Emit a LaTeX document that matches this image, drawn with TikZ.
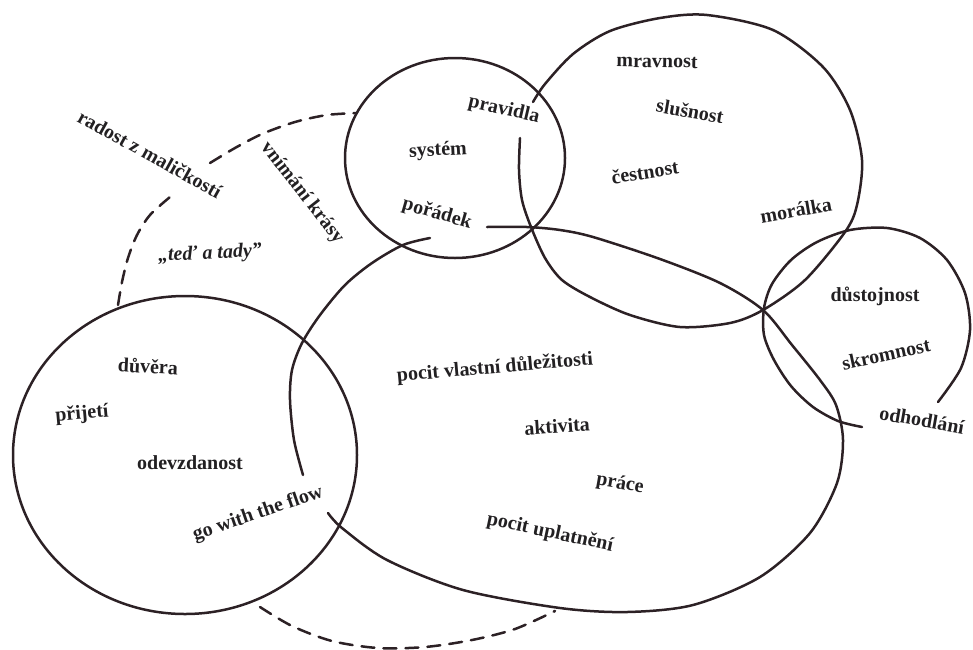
\documentclass[tikz,border=0pt]{standalone}
\usepackage{fontspec}
\setmainfont{Liberation Serif}
\definecolor{ink}{RGB}{44,33,37}
\definecolor{type}{RGB}{34,32,34}

\begin{document}
\begin{tikzpicture}[
    x=1pt, y=-1pt,
    font=\bfseries\fontsize{20}{23}\selectfont,
    ring/.style={draw=ink, line width=2.5pt, line cap=round, line join=round},
    loose/.style={ring, dash pattern=on 13pt off 9pt},
    word/.style={text=type, inner sep=1pt}
]
    \useasboundingbox (0,0) rectangle (973,649);

    % --- DASHED ARCS ---
    \draw[loose] plot[smooth] coordinates {(118,305) (122,282) (128,258) (137,235) (150,215) (170,197)};
    \draw[loose] plot[smooth] coordinates {(210,163) (235,148) (262,134) (295,122) (327,115) (357,113)};
    \draw[loose] plot[smooth] coordinates {(260,607) (292,626) (332,641) (378,648) (425,647) (472,640) (515,629) (555,611)};

    % --- CIRCLES ---
    % system / order
    \draw[ring] (455,158) ellipse [x radius=110pt, y radius=100pt];
    % trust / acceptance
    \draw[ring] (185,455) ellipse [x radius=172pt, y radius=159pt];

    % morals (gap under "pravidla")
    \draw[ring] plot[smooth] coordinates {(533,102) (545,84) (573,54) (610,31) (660,18) (707,15)
        (773,30) (823,67) (850,110) (862,160) (857,205) (845,232) (805,280) (763,310) (730,323)
        (680,327) (630,315) (590,297) (562,280) (545,258) (531,227) (522,200) (519,170) (520,138)};

    % dignity (open at the bottom)
    \draw[ring] plot[smooth] coordinates {(862,427) (838,421) (813,407) (791,386) (774,360) (764,335)
        (764,308) (772,284) (791,260) (817,242) (850,230) (887,228) (920,238) (947,260) (965,293)
        (970,330) (961,368) (938,402)};

    % importance blob (gaps under "pořádek" and "go with the flow")
    \draw[ring] plot[smooth] coordinates {(328,513) (342,528) (387,560) (463,590) (560,608) (627,612)
        (693,605) (760,577) (810,533) (837,483) (843,440) (836,405) (820,380) (792,345) (763,310)
        (720,283) (660,259) (593,237) (560,230) (527,227) (487,227)};
    \draw[ring] plot[smooth] coordinates {(430,238) (403,245) (372,263) (345,285) (320,315) (302,343)
        (292,370) (290,400) (294,440) (303,475)};

    % --- LABELS ---
    \node[word, rotate=-29] (radost) at (150,154) {radost z maličkostí};
    \node[word, rotate=-52] (krasa) at (302,193) {vnímání krásy};
    \node[word, rotate=3] (tady) at (210,254) {\itshape „teď a tady”};

    \node[word, rotate=3] (system) at (438,151) {systém};
    \node[word, rotate=-13] (pravidla) at (504,110) {pravidla};
    \node[word, rotate=-16] (poradek) at (437,214) {pořádek};

    \node[word, rotate=-1] (mravnost) at (657,62) {mravnost};
    \node[word, rotate=-10] (slusnost) at (690,111) {slušnost};
    \node[word, rotate=9] (cestnost) at (645,172) {čestnost};
    \node[word, rotate=10] (moralka) at (796,210) {morálka};

    \node[word] (dustojnost) at (875,296) {důstojnost};
    \node[word, rotate=12] (skromnost) at (886,354) {skromnost};
    \node[word, rotate=-10] (odhodlani) at (922,420) {odhodlání};

    \node[word, rotate=-3] (duvera) at (148,366) {důvěra};
    \node[word, rotate=5] (prijeti) at (82,414) {přijetí};
    \node[word] (odevzdanost) at (190,463) {odevzdanost};
    \node[word, rotate=19] (flow) at (258,514) {go with the flow};

    \node[word, rotate=5] (dulezitost) at (495,368) {pocit vlastní důležitosti};
    \node[word, rotate=4] (aktivita) at (557,426) {aktivita};
    \node[word, rotate=-10] (prace) at (620,484) {práce};
    \node[word, rotate=-12] (uplatneni) at (550,533) {pocit uplatnění};

\end{tikzpicture}
\end{document}
